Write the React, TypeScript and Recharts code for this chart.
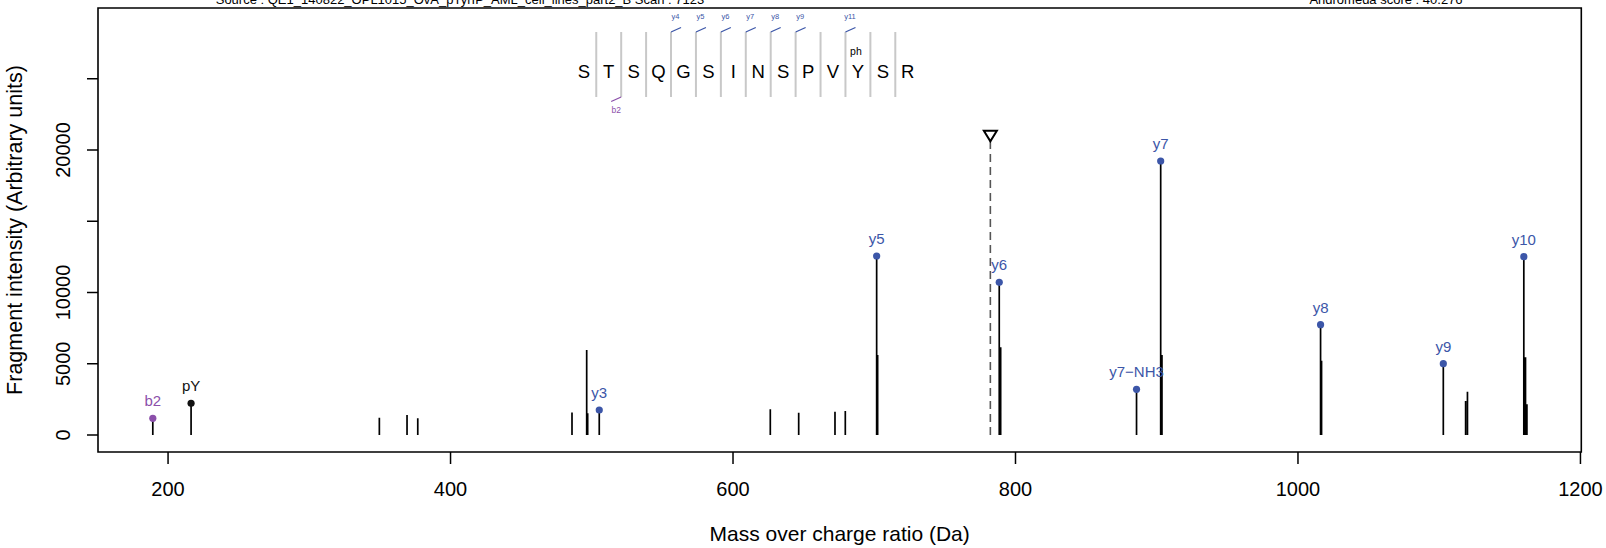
import React from "react";
import { ComposedChart, Line, Scatter, XAxis, YAxis, ReferenceArea } from "recharts";

// every fragment peak (m/z, intensity)
const peakMz = [
  189.2, 216.3, 349.6, 369.2, 376.8, 486.0, 496.4, 497.1, 505.3, 626.4, 646.5, 672.2, 679.5,
  701.7, 702.4, 788.5, 789.5, 885.7, 902.8, 903.7, 1016.0, 1016.7, 1102.9, 1118.7, 1120.0,
  1159.9, 1161.1, 1162.1,
];
const peakIntensity = [
  1172, 2225, 1215, 1400, 1170, 1580, 5965, 1520, 1754, 1800, 1567, 1637, 1684,
  12561, 5614, 10716, 6154, 3204, 19228, 5614, 7743, 5216, 5006, 2386, 3040,
  12514, 5450, 2150,
];

// annotated ions
const ionLabels = ["b2", "pY", "y3", "y5", "y6", "y7−NH3", "y7", "y8", "y9", "y10"];
const ionMz = [189.2, 216.3, 505.3, 701.7, 788.5, 885.7, 902.8, 1016.0, 1102.9, 1159.9];
const ionIntensity = [1172, 2225, 1754, 12561, 10716, 3204, 19228, 7743, 5006, 12514];
const ionKind = ["b", "imm", "y", "y", "y", "y", "y", "y", "y", "y"];

// precursor marker
const precursorMz = 782.2;
const precursorMarker = 21000;
const precursorLineTop = 20650;

const xTicks = [200, 400, 600, 800, 1000, 1200];
const yTicks = [0, 5000, 10000, 15000, 20000, 25000];
const yTickLabels = ["0", "5000", "10000", "", "20000", ""];

// peptide header
const peptide = ["S", "T", "S", "Q", "G", "S", "I", "N", "S", "P", "V", "Y", "S", "R"];
const yIonSites = [4, 5, 6, 7, 8, 9, 11];
const yIonNames = ["y4", "y5", "y6", "y7", "y8", "y9", "y11"];
const bIonSites = [2];
const bIonNames = ["b2"];
const modSite = 11;
const modLabel = "ph";

const sourceText = "Source : QE1_140822_OPL1015_OvA_pTyrIP_AML_cell_lines_part2_B   Scan : 7123";
const scoreText = "Andromeda score : 40.276";

const BLUE = "#3C56A8";
const PURPLE = "#8B4FAA";
const FONT = "'Liberation Sans', Arial, Helvetica, sans-serif";

const kindColor: Record<string, string> = { b: PURPLE, y: BLUE, imm: "#111" };

const stemData = peakMz.flatMap((mz, i) => [
  { mz, v: 0 },
  { mz, v: peakIntensity[i] },
  { mz, v: null },
]);
const ionData = ionMz.map((mz, i) => ({
  mz,
  v: ionIntensity[i],
  label: ionLabels[i],
  color: kindColor[ionKind[i]],
}));
const precursorLine = [
  { mz: precursorMz, v: 0 },
  { mz: precursorMz, v: precursorLineTop },
];
const precursorPoint = [{ mz: precursorMz, v: precursorMarker }];

function IonDot(props: any) {
  const { cx, cy, payload } = props;
  if (cx == null || cy == null) return null;
  return (
    <g>
      <circle cx={cx} cy={cy} r={3.6} fill={payload.color} />
      <text x={cx} y={cy - 12} textAnchor="middle" fontSize={15} fill={payload.color}>
        {payload.label}
      </text>
    </g>
  );
}

function Triangle(props: any) {
  const { cx, cy } = props;
  if (cx == null || cy == null) return null;
  return (
    <polygon
      points={`${cx - 6.5},${cy - 5} ${cx + 6.5},${cy - 5} ${cx},${cy + 5.5}`}
      fill="#fff"
      stroke="#000"
      strokeWidth={2}
    />
  );
}

function YTick(props: any) {
  const { x, y, index } = props;
  const label = yTickLabels[index] ?? "";
  return (
    <text x={x} y={y} transform={`rotate(-90, ${x}, ${y})`} textAnchor="middle" fontSize={20} fill="#000">
      {label}
    </text>
  );
}

function XTick(props: any) {
  const { x, y, payload } = props;
  return (
    <text x={x} y={y} dy="0.71em" textAnchor="middle" fontSize={20} fill="#000">
      {payload.value}
    </text>
  );
}

function PeptideHeader() {
  const x0 = 583.8;
  const step = 24.92;
  const sepX = (j: number) => x0 + (j - 0.5) * step;
  return (
    <svg
      width={1606}
      height={548}
      style={{ position: "absolute", left: 0, top: 0, pointerEvents: "none", fontFamily: FONT }}
    >
      <text x={460} y={4} textAnchor="middle" fontSize={13} fill="#000">
        {sourceText}
      </text>
      <text x={1386} y={4} textAnchor="middle" fontSize={13} fill="#000">
        {scoreText}
      </text>
      {peptide.slice(1).map((_, k) => (
        <line key={"s" + k} x1={sepX(k + 1)} x2={sepX(k + 1)} y1={32} y2={97} stroke="#C8C8C8" strokeWidth={2} />
      ))}
      {peptide.map((aa, i) => (
        <text key={"a" + i} x={x0 + i * step} y={78.3} textAnchor="middle" fontSize={18.5} fill="#000">
          {aa}
        </text>
      ))}
      {yIonSites.map((j, k) => (
        <g key={"y" + k}>
          <line x1={sepX(j)} y1={32} x2={sepX(j) + 10} y2={27.5} stroke={BLUE} strokeWidth={1.3} />
          <text x={sepX(j) + 4.5} y={19.3} textAnchor="middle" fontSize={7.5} fill={BLUE}>
            {yIonNames[k]}
          </text>
        </g>
      ))}
      {bIonSites.map((j, k) => (
        <g key={"b" + k}>
          <line x1={sepX(j)} y1={97} x2={sepX(j) - 10} y2={101.5} stroke={PURPLE} strokeWidth={1.3} />
          <text x={sepX(j) - 5} y={112.5} textAnchor="middle" fontSize={8.5} fill={PURPLE}>
            {bIonNames[k]}
          </text>
        </g>
      ))}
      <text x={x0 + modSite * step - 2} y={55} textAnchor="middle" fontSize={10.5} fill="#000">
        {modLabel}
      </text>
    </svg>
  );
}

export default function App() {
  return (
    <div style={{ position: "absolute", left: 0, top: 0, width: 1606, height: 548, background: "#fff", fontFamily: FONT }}>
      <ComposedChart width={1606} height={548} margin={{ top: 8, right: 24.7, left: 0, bottom: 0 }}>
        <XAxis
          dataKey="mz"
          type="number"
          domain={[150.4, 1200.6]}
          ticks={xTicks}
          interval={0}
          allowDataOverflow
          height={96}
          axisLine={false}
          tickSize={12}
          tickMargin={18}
          tickLine={{ stroke: "#000", strokeWidth: 1.5 }}
          tick={<XTick />}
          label={{
            value: "Mass over charge ratio (Da)",
            position: "insideBottom",
            offset: 7,
            style: { fontSize: 21, fill: "#000", fontFamily: FONT },
          }}
        />
        <YAxis
          dataKey="v"
          type="number"
          domain={[-1193, 29965]}
          ticks={yTicks}
          interval={0}
          allowDataOverflow
          width={98}
          axisLine={false}
          tickSize={11}
          tickMargin={17}
          tickLine={{ stroke: "#000", strokeWidth: 1.5 }}
          tick={<YTick />}
          label={{
            value: "Fragment intensity (Arbitrary units)",
            angle: -90,
            position: "insideLeft",
            offset: 14.5,
            style: { fontSize: 21.5, fill: "#000", textAnchor: "middle", fontFamily: FONT },
          }}
        />
        <ReferenceArea
          x1={150.4}
          x2={1200.6}
          y1={-1193}
          y2={29965}
          fill="none"
          fillOpacity={0}
          stroke="#000"
          strokeWidth={1.6}
          ifOverflow="visible"
        />
        <Line
          data={precursorLine}
          dataKey="v"
          stroke="#555"
          strokeWidth={1.6}
          strokeDasharray="8 5"
          dot={false}
          activeDot={false}
          isAnimationActive={false}
        />
        <Line
          data={stemData}
          dataKey="v"
          stroke="#000"
          strokeWidth={1.7}
          dot={false}
          activeDot={false}
          connectNulls={false}
          isAnimationActive={false}
        />
        <Scatter data={precursorPoint} dataKey="v" shape={<Triangle />} isAnimationActive={false} />
        <Scatter data={ionData} dataKey="v" shape={<IonDot />} isAnimationActive={false} />
      </ComposedChart>
      <PeptideHeader />
    </div>
  );
}
